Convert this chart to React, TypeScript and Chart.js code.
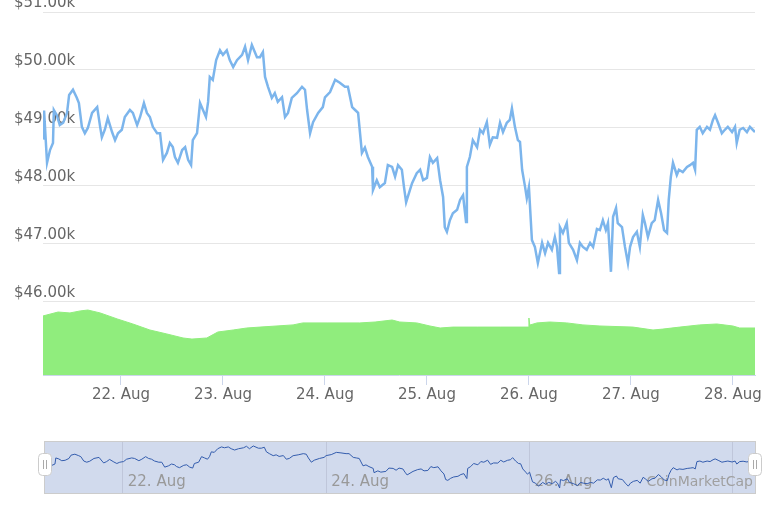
import React, { useEffect, useRef } from 'react';
import { Chart, registerables } from 'chart.js';

Chart.register(...registerables);

// Hours since 21 Aug 00:00
const priceHours = [
  5.7, 5.9, 6.6, 7.3, 8.0, 8.2, 8.9, 9.6, 10.4, 11.3, 11.8, 12.7, 13.6, 14.1, 14.8, 15.5, 16.2, 17.2, 18.4, 19.1,
  19.5, 20.2, 20.9, 21.9, 22.6, 23.3, 24.2, 24.9, 26.1, 26.8, 27.8, 28.5, 29.4, 30.1, 30.8, 31.5, 32.5, 33.2, 33.9, 34.8,
  35.5, 36.2, 36.7, 37.4, 38.4, 39.1, 39.8, 40.5, 40.9, 41.9, 42.6, 43.3, 44.0, 44.5, 44.9, 45.6, 46.4, 47.3, 48.0, 48.9,
  49.6, 50.4, 51.3, 52.5, 53.2, 53.9, 54.8, 56.0, 56.7, 57.4, 57.9, 58.6, 59.5, 60.2, 60.9, 61.9, 62.6, 63.3, 64.2, 65.4,
  66.6, 67.3, 67.8, 68.5, 69.2, 70.4, 71.5, 72.0, 73.2, 74.4, 75.5, 76.7, 77.4, 78.4, 79.1, 79.8, 80.7, 81.4, 82.1, 83.1,
  83.3, 84.2, 84.9, 86.1, 86.8, 87.8, 88.5, 89.2, 90.1, 90.6, 91.1, 92.5, 93.6, 94.4, 95.1, 96.0, 96.7, 97.4, 98.4, 99.1,
  99.8, 100.2, 100.7, 101.4, 102.1, 103.1, 103.8, 104.5, 105.2, 105.4, 106.1, 106.8, 107.8, 108.5, 109.2, 110.1, 110.8, 111.5, 112.5, 113.2,
  113.9, 114.8, 115.5, 116.0, 116.7, 117.4, 117.9, 118.4, 119.1, 119.5, 120.0, 120.7, 121.4, 122.1, 123.1, 123.8, 124.5, 125.4, 126.1, 126.6,
  127.1, 127.3, 128.0, 128.9, 129.4, 130.4, 131.3, 132.0, 132.7, 133.6, 134.4, 135.1, 136.0, 136.7, 137.4, 138.1, 138.6, 139.3, 139.8, 140.5,
  140.9, 141.9, 142.6, 143.3, 143.8, 144.5, 145.4, 146.1, 146.8, 147.3, 148.0, 148.9, 149.6, 150.4, 151.1, 151.8, 152.5, 152.9, 153.4, 153.9,
  154.8, 155.3, 156.2, 157.2, 157.9, 158.6, 159.1, 159.5, 160.2, 160.9, 161.9, 162.6, 163.3, 163.8, 164.5, 165.4, 166.1, 166.8, 167.8, 168.5,
  168.9, 169.6, 170.4, 171.3, 172.0, 173.2,
];

const prices = [
  48800, 49300, 48400, 48620, 48740, 49310, 49220, 49050, 49090, 49260, 49570, 49660, 49520, 49430, 49020, 48910, 49000, 49260, 49360, 49020,
  48840, 48970, 49170, 48930, 48790, 48910, 48970, 49190, 49310, 49260, 49050, 49190, 49430, 49260, 49190, 49020, 48910, 48910, 48450, 48570,
  48740, 48670, 48500, 48400, 48620, 48670, 48450, 48360, 48790, 48910, 49430, 49310, 49190, 49450, 49880, 49830, 50170, 50340, 50260, 50340,
  50170, 50050, 50170, 50260, 50400, 50170, 50430, 50220, 50220, 50310, 49880, 49710, 49520, 49600, 49450, 49530, 49190, 49260, 49520, 49600,
  49710, 49660, 49310, 48910, 49100, 49260, 49360, 49530, 49620, 49830, 49780, 49710, 49710, 49360, 49310, 49260, 48570, 48660, 48500, 48330,
  47930, 48100, 47980, 48050, 48360, 48330, 48160, 48360, 48280, 47980, 47720, 48050, 48220, 48280, 48100, 48140, 48500, 48400, 48480, 48100,
  47810, 47290, 47210, 47410, 47530, 47590, 47760, 47840, 47380, 48330, 48500, 48790, 48670, 48970, 48910, 49100, 48710, 48840, 48830, 49090,
  48930, 49090, 49140, 49340, 49020, 48790, 48760, 48280, 47980, 47790, 47980, 47070, 46950, 46670, 47020, 46840, 47020, 46900, 47120, 46950,
  46500, 47290, 47190, 47360, 47020, 46900, 46720, 47020, 46950, 46900, 47020, 46950, 47260, 47240, 47410, 47240, 47360, 46520, 47470, 47620,
  47360, 47290, 46950, 46670, 46950, 47120, 47210, 46950, 47500, 47360, 47120, 47360, 47410, 47760, 47530, 47240, 47190, 47760, 48160, 48400,
  48190, 48280, 48240, 48330, 48360, 48400, 48280, 48970, 49020, 48910, 49020, 48970, 49140, 49220, 49090, 48910, 48970, 49020, 48930, 49020,
  48740, 48970, 49000, 48930, 49020, 48930,
];

// 24h volume, billions USD
const volumeHours = [
  5.6, 9.2, 12.0, 14.4, 16.2, 19.1, 23.1, 26.8, 30.8, 34.8, 38.6, 40.7, 44.2, 46.8, 50.4, 53.6, 56.7, 64.5, 66.8, 72.5,
  80.2, 83.8, 87.8, 89.6, 93.6, 96.7, 99.1, 102.1, 107.8, 113.2, 119.8, 120.0, 120.2, 121.9, 124.9, 128.9, 132.7, 136.7, 144.5, 149.2,
  151.5, 155.5, 160.2, 164.2, 168.0, 169.6, 173.2,
];
const volumes = [
  32.5, 34.7, 34.2, 35.3, 35.8, 34.2, 30.9, 28.1, 24.8, 22.6, 20.4, 19.8, 20.4, 23.7, 24.8, 25.9, 26.4, 27.6, 28.7, 28.7,
  28.7, 29.2, 30.3, 29.2, 28.7, 27.0, 25.9, 26.4, 26.4, 26.4, 26.4, 31.4, 27.5, 28.7, 29.2, 28.7, 27.6, 27.0, 26.4, 24.8,
  25.3, 26.4, 27.6, 28.1, 27.0, 25.9, 25.9,
];

const priceTicks = [46000, 47000, 48000, 49000, 50000, 51000];
const dayTicks = [24, 48, 72, 96, 120, 144, 168];
const dayLabels = ['22. Aug', '23. Aug', '24. Aug', '25. Aug', '26. Aug', '27. Aug', '28. Aug'];
const navTicks = [24, 72, 120, 168];
const navLabels = ['22. Aug', '24. Aug', '26. Aug', ''];
const watermark = 'CoinMarketCap';

const FONT = "'DejaVu Sans', sans-serif";
const X_MIN = 5.65;
const X_MAX = 173.2;

export default function App() {
  const mainRef = useRef<HTMLCanvasElement | null>(null);
  const navRef = useRef<HTMLCanvasElement | null>(null);

  useEffect(() => {
    Chart.defaults.font.family = FONT;
    const pricePts = priceHours.map((h, i) => ({ x: h, y: prices[i] }));
    const volPts = volumeHours.map((h, i) => ({ x: h, y: volumes[i] }));

    const main = new Chart(mainRef.current as HTMLCanvasElement, {
      type: 'line',
      data: {
        datasets: [
          {
            label: 'Price',
            data: pricePts,
            yAxisID: 'y',
            borderColor: '#7cb5ec',
            borderWidth: 2.5,
            pointRadius: 0,
            tension: 0,
            fill: false,
          },
          {
            label: 'Volume',
            data: volPts,
            yAxisID: 'yv',
            borderColor: '#90ed7d',
            borderWidth: 1,
            backgroundColor: '#90ed7d',
            fill: 'origin',
            pointRadius: 0,
            tension: 0,
          },
        ],
      },
      options: {
        animation: false,
        responsive: false,
        devicePixelRatio: 1,
        layout: { padding: { left: 14, right: 13, top: 12, bottom: 0 } },
        plugins: { legend: { display: false }, tooltip: { enabled: false } },
        scales: {
          x: {
            type: 'linear',
            min: X_MIN,
            max: X_MAX,
            afterBuildTicks: (s: any) => {
              s.ticks = dayTicks.map((v) => ({ value: v }));
            },
            afterFit: (s: any) => {
              s.height = 35;
            },
            grid: { drawOnChartArea: false, drawTicks: true, tickLength: 10, tickColor: '#ccd6eb' },
            border: { display: true, color: '#ccd6eb' },
            ticks: {
              autoSkip: false,
              maxRotation: 0,
              padding: 1,
              color: '#666666',
              font: { size: 15, family: FONT },
              callback: (v: any) => {
                const i = dayTicks.indexOf(Number(v));
                return i >= 0 ? dayLabels[i] : '';
              },
            },
          },
          y: {
            position: 'left',
            min: 44741,
            max: 51000,
            afterBuildTicks: (s: any) => {
              s.ticks = priceTicks.map((v) => ({ value: v }));
            },
            afterFit: (s: any) => {
              s.width = 29;
            },
            grid: { color: '#e6e6e6', drawTicks: false },
            border: { display: false },
            ticks: {
              mirror: true,
              padding: -29,
              labelOffset: -9,
              color: '#666666',
              font: { size: 15, family: FONT },
              callback: (v: any) => '$' + (Number(v) / 1000).toFixed(2) + 'k',
            },
          },
          yv: { display: false, min: 0, max: 200 },
        },
      },
    } as any);

    const navPlugin = {
      id: 'navDeco',
      beforeDraw(chart: any) {
        const { ctx, chartArea } = chart;
        const { left, top, right, bottom } = chartArea;
        ctx.save();
        ctx.fillStyle = 'rgba(102,133,194,0.3)';
        ctx.fillRect(left, top, right - left, bottom - top);
        ctx.restore();
      },
      beforeDatasetsDraw(chart: any) {
        const { ctx, chartArea } = chart;
        const xs = chart.scales.x;
        ctx.save();
        ctx.font = '15px ' + FONT;
        ctx.fillStyle = '#999999';
        ctx.textAlign = 'left';
        ctx.textBaseline = 'middle';
        navTicks.forEach((t, i) => {
          if (!navLabels[i]) return;
          ctx.fillText(navLabels[i], xs.getPixelForValue(t) + 5, chartArea.bottom - 11);
        });
        ctx.font = '14px ' + FONT;
        ctx.fillStyle = '#a0a0a0';
        ctx.textAlign = 'right';
        ctx.fillText(watermark, chartArea.right - 2, chartArea.bottom - 11);
        ctx.restore();
      },
      afterDraw(chart: any) {
        const { ctx, chartArea } = chart;
        const { left, top, right, bottom } = chartArea;
        ctx.save();
        ctx.strokeStyle = '#cccccc';
        ctx.lineWidth = 1;
        ctx.strokeRect(left - 0.5, top - 0.5, right - left + 1, bottom - top + 1);
        [left, right].forEach((x) => {
          const hx = Math.round(x) - 6.5;
          const hy = top + 11.5;
          ctx.beginPath();
          if ((ctx as any).roundRect) (ctx as any).roundRect(hx, hy, 13, 22, 4);
          else ctx.rect(hx, hy, 13, 22);
          ctx.fillStyle = '#ffffff';
          ctx.fill();
          ctx.strokeStyle = '#cccccc';
          ctx.stroke();
          ctx.beginPath();
          ctx.strokeStyle = '#aaaaaa';
          ctx.moveTo(Math.round(x) - 1.5, top + 18);
          ctx.lineTo(Math.round(x) - 1.5, top + 27);
          ctx.moveTo(Math.round(x) + 1.5, top + 18);
          ctx.lineTo(Math.round(x) + 1.5, top + 27);
          ctx.stroke();
        });
        ctx.restore();
      },
    };

    const nav = new Chart(navRef.current as HTMLCanvasElement, {
      type: 'line',
      data: {
        datasets: [
          {
            label: 'Navigator',
            data: pricePts,
            borderColor: '#335cad',
            borderWidth: 1,
            pointRadius: 0,
            tension: 0,
            fill: false,
          },
        ],
      },
      options: {
        animation: false,
        responsive: false,
        devicePixelRatio: 1,
        layout: { padding: { left: 45, right: 13, top: 12, bottom: 19 } },
        plugins: { legend: { display: false }, tooltip: { enabled: false } },
        scales: {
          x: {
            type: 'linear',
            min: X_MIN,
            max: X_MAX,
            afterBuildTicks: (s: any) => {
              s.ticks = navTicks.map((v) => ({ value: v }));
            },
            afterFit: (s: any) => {
              s.height = 0;
            },
            ticks: { display: false },
            grid: { color: '#bfc6da', drawTicks: false },
            border: { display: false },
          },
          y: { display: false, min: 46030, max: 50800 },
        },
      },
      plugins: [navPlugin],
    } as any);

    return () => {
      main.destroy();
      nav.destroy();
    };
  }, []);

  return (
    <div style={{ position: 'fixed', left: 0, top: 0, width: 768, height: 512, background: '#ffffff' }}>
      <canvas ref={mainRef} width={768} height={410} style={{ position: 'absolute', left: 0, top: 0, width: 768, height: 410 }} />
      <canvas ref={navRef} width={768} height={82} style={{ position: 'absolute', left: 0, top: 430, width: 768, height: 82 }} />
    </div>
  );
}
